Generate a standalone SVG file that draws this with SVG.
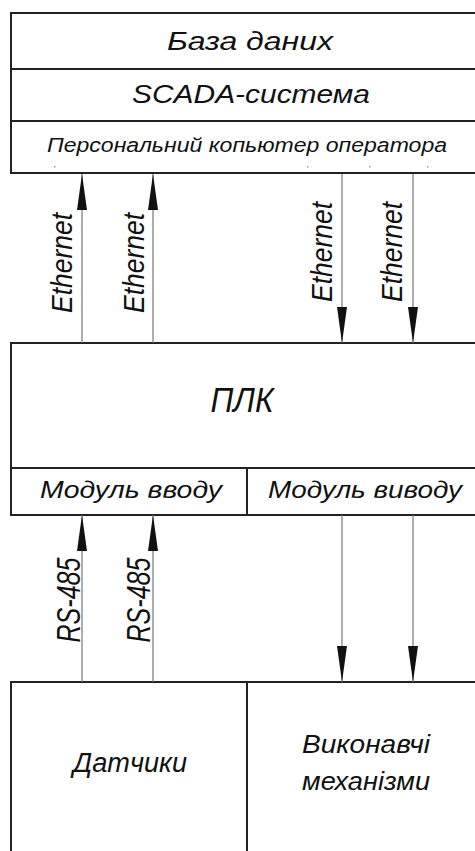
<svg xmlns="http://www.w3.org/2000/svg" width="475" height="851" viewBox="0 0 475 851">
<defs>
<style>
.box{fill:#fff;stroke:#222;stroke-width:2}
.wire{stroke:#777;stroke-width:1.2;fill:none}
.t{font-family:"Liberation Sans","DejaVu Sans",sans-serif;font-style:italic;fill:#111;text-anchor:middle}
.dot{fill:#999}
</style>
<marker id="ah" viewBox="0 0 36 10" refX="36" refY="5" markerWidth="36" markerHeight="10" markerUnits="userSpaceOnUse" orient="auto">
<path d="M0,0 L36,5 L0,10 Z" fill="#111"/>
</marker>
</defs>
<rect width="475" height="851" fill="#fff"/>
<g id="db">
<rect class="box" x="11" y="13" width="480" height="56"/>
<text class="t" x="250" y="50" font-size="25" textLength="166" lengthAdjust="spacingAndGlyphs">База даних</text>
</g>
<g id="scada">
<rect class="box" x="11" y="69" width="480" height="52"/>
<text class="t" x="251" y="103" font-size="26" textLength="238" lengthAdjust="spacingAndGlyphs">SCADA-система</text>
</g>
<g id="pc">
<rect class="box" x="11" y="121" width="480" height="52"/>
<text class="t" x="247" y="152" font-size="20" textLength="400" lengthAdjust="spacingAndGlyphs">Персональний копьютер оператора</text>
<rect class="dot" x="54" y="166" width="1.5" height="1.5"/>
<rect class="dot" x="307" y="166" width="1.5" height="1.5"/>
<rect class="dot" x="369" y="166" width="1.5" height="1.5"/>
<rect class="dot" x="427" y="166" width="1.5" height="1.5"/>
</g>
<g id="plc">
<rect class="box" x="11" y="343" width="480" height="125"/>
<text class="t" x="242" y="412" font-size="35" textLength="63" lengthAdjust="spacingAndGlyphs">ПЛК</text>
</g>
<g id="input-module">
<rect class="box" x="11" y="468" width="236" height="47"/>
<text class="t" x="131" y="498" font-size="24" textLength="182" lengthAdjust="spacingAndGlyphs">Модуль вводу</text>
</g>
<g id="output-module">
<rect class="box" x="247" y="468" width="244" height="47"/>
<text class="t" x="365" y="498" font-size="24" textLength="194" lengthAdjust="spacingAndGlyphs">Модуль виводу</text>
</g>
<g id="sensors">
<rect class="box" x="11" y="682" width="236" height="180"/>
<text class="t" x="130" y="772" font-size="27" textLength="114" lengthAdjust="spacingAndGlyphs">Датчики</text>
</g>
<g id="actuators">
<rect class="box" x="247" y="682" width="244" height="180"/>
<text class="t" x="366" y="753" font-size="26" textLength="128" lengthAdjust="spacingAndGlyphs">Виконавчі</text>
<text class="t" x="366" y="790" font-size="26" textLength="128" lengthAdjust="spacingAndGlyphs">механізми</text>
</g>
<g id="connectors">
<line class="wire" x1="82" y1="343" x2="82" y2="174" marker-end="url(#ah)"/>
<line class="wire" x1="153" y1="343" x2="153" y2="174" marker-end="url(#ah)"/>
<line class="wire" x1="342" y1="174" x2="342" y2="343" marker-end="url(#ah)"/>
<line class="wire" x1="413" y1="174" x2="413" y2="343" marker-end="url(#ah)"/>
<line class="wire" x1="82" y1="682" x2="82" y2="515" marker-end="url(#ah)"/>
<line class="wire" x1="153" y1="682" x2="153" y2="515" marker-end="url(#ah)"/>
<line class="wire" x1="342" y1="515" x2="342" y2="682" marker-end="url(#ah)"/>
<line class="wire" x1="413" y1="515" x2="413" y2="682" marker-end="url(#ah)"/>
<text class="t" transform="translate(72,263) rotate(-90)" font-size="29" textLength="100" lengthAdjust="spacingAndGlyphs">Ethernet</text>
<text class="t" transform="translate(144,263) rotate(-90)" font-size="29" textLength="100" lengthAdjust="spacingAndGlyphs">Ethernet</text>
<text class="t" transform="translate(332,252) rotate(-90)" font-size="29" textLength="100" lengthAdjust="spacingAndGlyphs">Ethernet</text>
<text class="t" transform="translate(402,252) rotate(-90)" font-size="29" textLength="100" lengthAdjust="spacingAndGlyphs">Ethernet</text>
<text class="t" transform="translate(80,600) rotate(-90)" font-size="33" textLength="85" lengthAdjust="spacingAndGlyphs">RS-485</text>
<text class="t" transform="translate(150,600) rotate(-90)" font-size="33" textLength="85" lengthAdjust="spacingAndGlyphs">RS-485</text>
</g>
</svg>
